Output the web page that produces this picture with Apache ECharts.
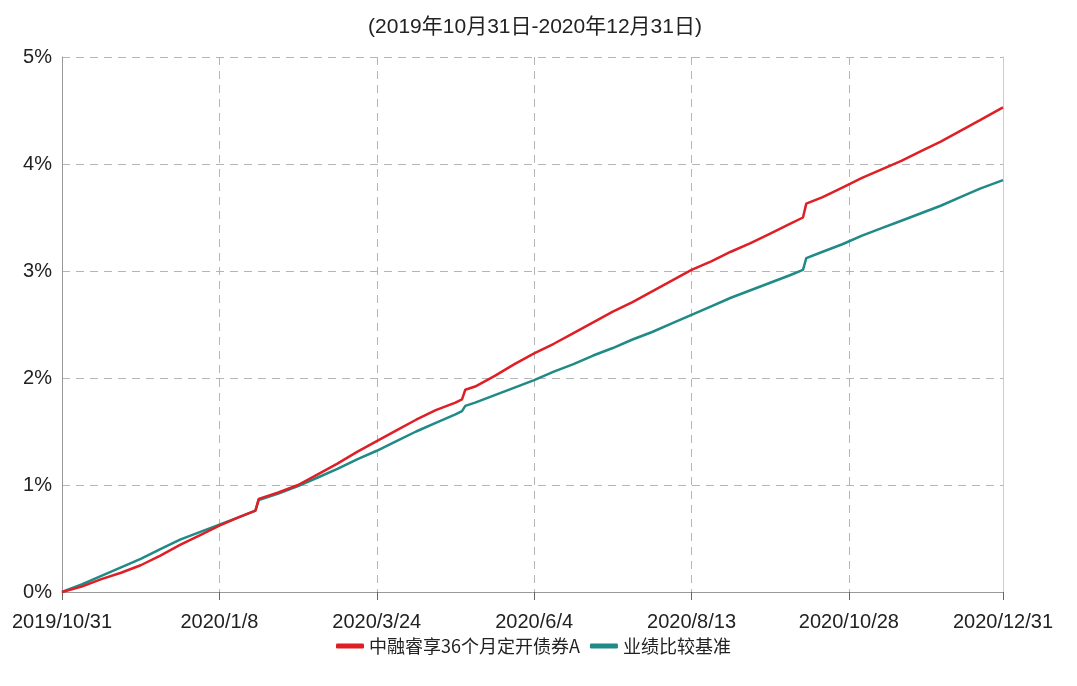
<!DOCTYPE html>
<html>
<head>
<meta charset="utf-8">
<script src="https://cdn.jsdelivr.net/npm/echarts@6/dist/echarts.min.js"></script>
<style>
html,body{margin:0;padding:0;background:#fff;}
#chart{width:1077px;height:686px;}
</style>
</head>
<body>
<div id="chart"></div>
<script>
const titleText = '(2019年10月31日-2020年12月31日)';
const seriesNames = ['中融睿享36个月定开债券A', '业绩比较基准'];
const tickLabels = ['2019/10/31', '2020/1/8', '2020/3/24', '2020/6/4', '2020/8/13', '2020/10/28', '2020/12/31'];
const tickIndex = [0, 48, 96, 144, 192, 240, 287];
// trading-day index of each sampled point
const dayIndex = [0, 6, 12, 18, 24, 30, 36, 42, 48, 54, 59, 60, 66, 72, 78, 84, 90, 96, 102, 108, 114, 120, 122, 123, 126, 132, 138, 144, 150, 156, 162, 168, 174, 180, 186, 192, 198, 204, 210, 216, 222, 226, 227, 232, 238, 244, 250, 256, 262, 268, 274, 280, 287];
// cumulative return (%)
const fundValues = [0.00, 0.05, 0.12, 0.18, 0.25, 0.34, 0.44, 0.53, 0.62, 0.70, 0.76, 0.87, 0.93, 1.00, 1.10, 1.20, 1.31, 1.41, 1.51, 1.61, 1.70, 1.77, 1.80, 1.89, 1.92, 2.02, 2.13, 2.23, 2.32, 2.42, 2.52, 2.62, 2.71, 2.81, 2.91, 3.01, 3.09, 3.18, 3.26, 3.35, 3.44, 3.50, 3.63, 3.69, 3.78, 3.87, 3.95, 4.03, 4.12, 4.21, 4.31, 4.41, 4.53];
const benchValues = [0.00, 0.07, 0.15, 0.23, 0.31, 0.40, 0.49, 0.56, 0.63, 0.70, 0.76, 0.86, 0.92, 0.99, 1.07, 1.15, 1.24, 1.32, 1.41, 1.50, 1.58, 1.66, 1.69, 1.74, 1.77, 1.84, 1.91, 1.98, 2.06, 2.13, 2.21, 2.28, 2.36, 2.43, 2.51, 2.59, 2.67, 2.75, 2.82, 2.89, 2.96, 3.01, 3.12, 3.18, 3.25, 3.33, 3.40, 3.47, 3.54, 3.61, 3.69, 3.77, 3.85];

const fundData = dayIndex.map((d, i) => [d, fundValues[i]]);
const benchData = dayIndex.map((d, i) => [d, benchValues[i]]);

const FONT = '"Liberation Sans", Arial, "Noto Sans CJK SC", sans-serif';
const chart = echarts.init(document.getElementById('chart'));
chart.setOption({
  animation: false,
  backgroundColor: '#fff',
  title: {
    text: titleText,
    left: 530,
    textAlign: 'center',
    top: 12,
    textStyle: {fontFamily: FONT, fontSize: 21, fontWeight: 'normal', color: '#222'}
  },
  legend: {
    data: seriesNames,
    bottom: 26,
    left: 331,
    itemWidth: 28,
    itemHeight: 5,
    itemGap: 10,
    icon: 'roundRect',
    textStyle: {fontFamily: '"Noto Sans CJK SC", "Liberation Sans", sans-serif', fontSize: 18, color: '#222'}
  },
  grid: {left: 62, right: 74, top: 57, bottom: 94, containLabel: false},
  xAxis: {
    type: 'value',
    min: 0,
    max: 287,
    interval: 48,
    axisLine: {show: true, lineStyle: {color: '#999', width: 1}},
    axisTick: {show: true, length: 8, lineStyle: {color: '#666'}},
    axisLabel: {
      margin: 20,
      fontFamily: FONT,
      fontSize: 20,
      color: '#222',
      formatter: function (v) {
        const k = tickIndex.indexOf(Math.round(v));
        return k >= 0 ? tickLabels[k] : '';
      }
    },
    splitLine: {show: true, lineStyle: {color: '#b5b5b5', type: [8, 6], width: 1}}
  },
  yAxis: [{
    type: 'value',
    min: 0,
    max: 5,
    interval: 1,
    axisLine: {show: true, lineStyle: {color: '#999'}},
    axisTick: {show: false},
    axisLabel: {fontFamily: FONT, fontSize: 20, color: '#222', margin: 10, formatter: '{value}%'},
    splitLine: {show: true, lineStyle: {color: '#b5b5b5', type: [8, 6], width: 1}}
  }, {
    type: 'value',
    position: 'right',
    min: 0,
    max: 5,
    interval: 1,
    axisLine: {show: true, lineStyle: {color: '#ccc'}},
    axisTick: {show: false},
    axisLabel: {show: false},
    splitLine: {show: false}
  }],
  series: [{
    name: seriesNames[1],
    type: 'line',
    data: benchData,
    showSymbol: false,
    symbol: 'none',
    lineStyle: {color: '#1f8a86', width: 2.5},
    itemStyle: {color: '#1f8a86'}
  }, {
    name: seriesNames[0],
    type: 'line',
    data: fundData,
    showSymbol: false,
    symbol: 'none',
    lineStyle: {color: '#de1f26', width: 2.5},
    itemStyle: {color: '#de1f26'}
  }]
});
</script>
</body>
</html>
